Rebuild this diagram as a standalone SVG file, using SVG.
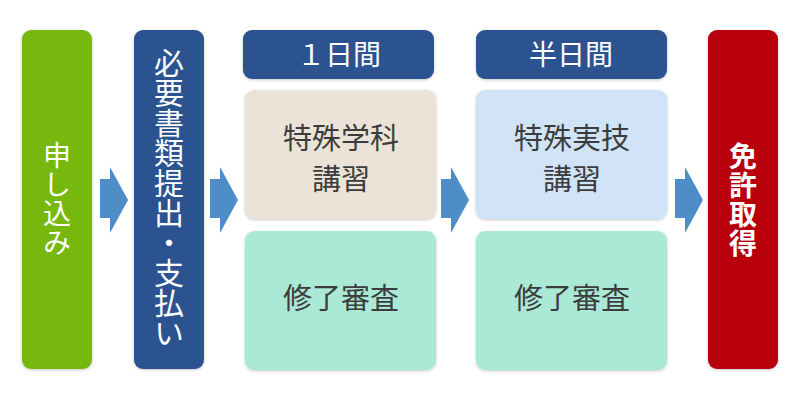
<svg xmlns="http://www.w3.org/2000/svg" width="800" height="400" viewBox="0 0 800 400">
<defs>
<filter id="sh" x="-10%" y="-10%" width="120%" height="120%">
<feDropShadow dx="0" dy="1" stdDeviation="1.5" flood-color="#000" flood-opacity="0.22"/>
</filter>
</defs>
<style>
text{font-family:"Noto Sans CJK JP","Noto Sans CJK SC",sans-serif;}
.d{fill:#3c3c3c;font-size:29px;text-anchor:middle;}
.h{fill:#ffffff;font-size:28px;text-anchor:middle;}
.v{writing-mode:vertical-rl;text-anchor:middle;fill:#ffffff;}
.arr{fill:#4F8DC8;}
</style>
<rect width="800" height="400" fill="#ffffff"/>
<g id="connectors">
<polygon class="arr" points="100,179 110,179 110,167 128,200 110,233 110,218 100,218"/>
<polygon class="arr" points="210,179 220,179 220,167 238,200 220,233 220,218 210,218"/>
<polygon class="arr" points="441,179 451,179 451,167 469,200 451,233 451,218 441,218"/>
<polygon class="arr" points="675,179 685,179 685,167 703,200 685,233 685,218 675,218"/>
</g>
<g id="apply">
<rect x="22" y="30" width="70" height="339" rx="9" fill="#76B80B" filter="url(#sh)"/>
<text class="v" x="57" y="199" style="font-size:28px;letter-spacing:1px">申し込み</text>
</g>
<g id="docs">
<rect x="134" y="30" width="70" height="339" rx="9" fill="#2C5390" filter="url(#sh)"/>
<text class="v" x="169" y="198" style="font-size:30px">必要書類提出・支払い</text>
</g>
<g id="header1">
<rect x="243" y="30" width="191" height="49" rx="9" fill="#2C5390" filter="url(#sh)"/>
<text class="h" x="339" y="65">１日間</text>
</g>
<g id="academic">
<rect x="245" y="90" width="191" height="129" rx="9" fill="#EBE3D7" filter="url(#sh)"/>
<text class="d" x="341" y="149">特殊学科</text>
<text class="d" x="341" y="190">講習</text>
</g>
<g id="review1">
<rect x="245" y="231" width="191" height="139" rx="9" fill="#ABE9D7" filter="url(#sh)"/>
<text class="d" x="341" y="309">修了審査</text>
</g>
<g id="header2">
<rect x="476" y="30" width="191" height="49" rx="9" fill="#2C5390" filter="url(#sh)"/>
<text class="h" x="571" y="65">半日間</text>
</g>
<g id="practical">
<rect x="476" y="90" width="191" height="129" rx="9" fill="#D0E3F7" filter="url(#sh)"/>
<text class="d" x="572" y="149">特殊実技</text>
<text class="d" x="572" y="190">講習</text>
</g>
<g id="review2">
<rect x="476" y="231" width="191" height="139" rx="9" fill="#ABE9D7" filter="url(#sh)"/>
<text class="d" x="572" y="309">修了審査</text>
</g>
<g id="license">
<rect x="708" y="30" width="70" height="339" rx="9" fill="#B8000A" filter="url(#sh)"/>
<text class="v" x="743" y="200" style="font-size:28px;font-weight:bold;letter-spacing:1px">免許取得</text>
</g>
</svg>
